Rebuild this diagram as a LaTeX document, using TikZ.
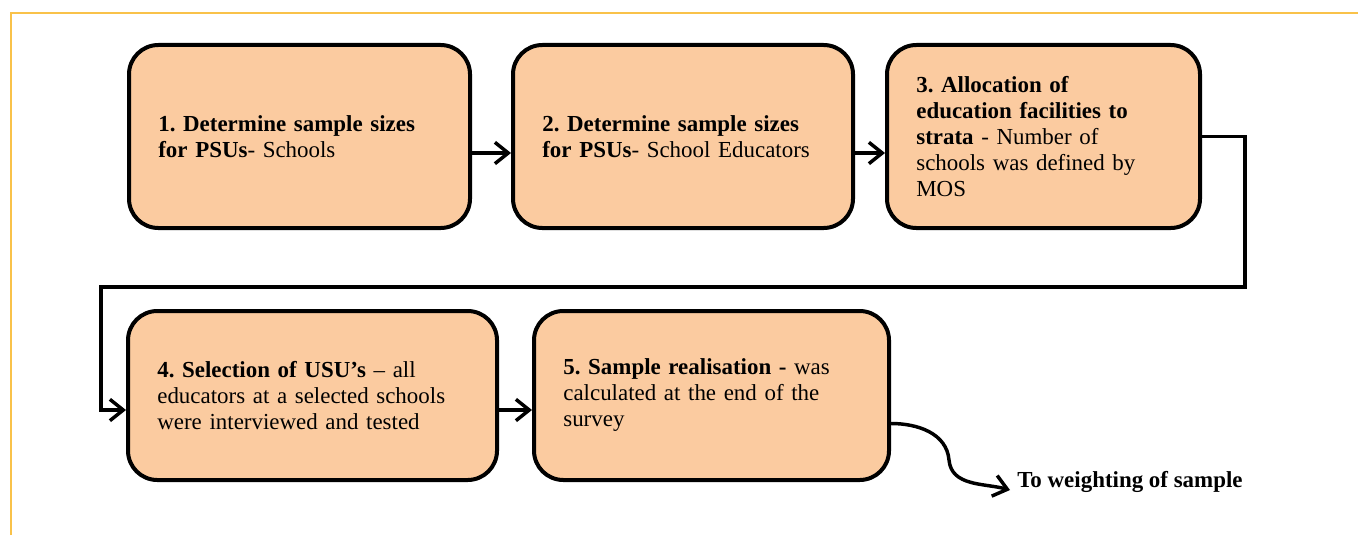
\documentclass[tikz,border=0pt]{standalone}
\usepackage{fontspec}
\setmainfont{Liberation Serif}
\usetikzlibrary{arrows.meta,calc}
\definecolor{peach}{HTML}{FBCBA0}
\definecolor{framegold}{HTML}{F9C24A}
\frenchspacing
\tikzset{
  stepbox/.style={draw=black, line width=3pt, fill=peach, rounded corners=22pt,
    align=left, inner xsep=22pt, inner ysep=0pt,
    font=\fontsize{17.2}{19.5}\selectfont},
  conn/.style={line width=2.6pt, -{Straight Barb[length=10pt,width=16pt]}},
}
\begin{document}
\begin{tikzpicture}[x=0.75pt,y=-0.75pt]
\useasboundingbox (0,0) rectangle (1358,535);
\draw[framegold, line width=1.5pt] (11,535) -- (11,13) -- (1358,13);

\node[stepbox, text width=211.75pt, minimum height=137.25pt] (b1) at (299.5,136.5)
  {\textbf{1. Determine sample sizes}\\\textbf{for PSUs}- Schools};
\node[stepbox, text width=211pt, minimum height=137.25pt] (b2) at (683,136.5)
  {\textbf{2. Determine sample sizes}\\\textbf{for PSUs}- School Educators};
\node[stepbox, text width=190.75pt, minimum height=137.25pt] (b3) at (1043.5,136.5)
  {\textbf{3. Allocation of}\\\textbf{education facilities to}\\\textbf{strata} - Number of\\schools was defined by\\MOS};
\node[stepbox, text width=232.75pt, minimum height=126.75pt] (b4) at (312.5,395.5)
  {\textbf{4. Selection of USU’s} – all\\educators at a selected schools\\were interviewed and tested};
\node[stepbox, text width=222.25pt, minimum height=126.75pt] (b5) at (711.5,395.5)
  {\textbf{5. Sample realisation -} was\\calculated at the end of the\\survey};
\node[anchor=west, inner sep=0pt, font=\fontsize{17.2}{19.5}\selectfont\bfseries] (lbl) at (1017,482) {To weighting of sample};

\coordinate (c1) at (1245,287);
\coordinate (c2) at (101,287);
\coordinate (bend) at (949,460);
\coordinate (tip) at (1010,490);

\draw[conn] ($(b1.east)+(0,16.5)$) -- ($(b2.west)+(0,16.5)$);
\draw[conn] ($(b2.east)+(0,16.5)$) -- ($(b3.west)+(0,16.5)$);
\draw[conn] (b3.east) -| (c1) -- (c2) |- ($(b4.west)+(0,14.5)$);
\draw[conn] ($(b4.east)+(0,14.5)$) -- ($(b5.west)+(0,14.5)$);
\draw[conn] ($(b5.east)+(0,28)$) to[out=0,in=95] (bend) to[out=-85,in=165] (tip);
\end{tikzpicture}
\end{document}
